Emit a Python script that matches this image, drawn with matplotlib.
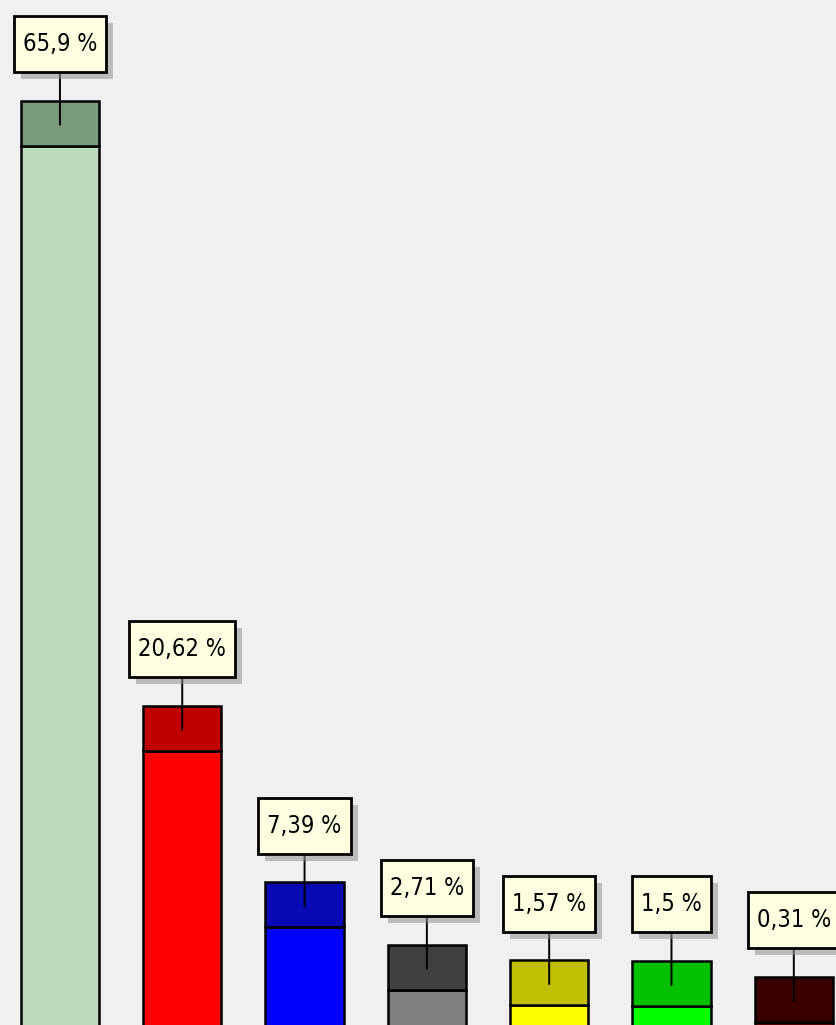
import matplotlib
matplotlib.use("Agg")
import matplotlib.pyplot as plt
import matplotlib.patheffects as pe
from matplotlib.path import Path

# Ergebnisse in Prozent
values = [65.9, 20.62, 7.39, 2.71, 1.57, 1.5, 0.31]
labels = ["65,9 %", "20,62 %", "7,39 %", "2,71 %", "1,57 %", "1,5 %", "0,31 %"]
colors = ["#BDDABF", "#FF0000", "#0000FF", "#808080", "#FFFF00", "#00FF00", "#4D0000"]
cap_colors = ["#7A9A7C", "#C00000", "#0A0AB4", "#404040", "#C0C000", "#00C000", "#3A0000"]

cap_h = 3.37      # Höhe des dunklen Kopfes
base = -5         # Balken beginnen unterhalb des Bildrandes


def label_box(x0, y0, width, height, mutation_size):
    # Kasten mit fester Höhe (56 px) und schmalem seitlichen Rand
    ph = 9
    pv = (56 - height) / 2
    verts = [(x0 - ph, y0 - pv), (x0 + width + ph, y0 - pv),
             (x0 + width + ph, y0 + height + pv), (x0 - ph, y0 + height + pv),
             (x0 - ph, y0 - pv)]
    codes = [Path.MOVETO, Path.LINETO, Path.LINETO, Path.LINETO, Path.CLOSEPOLY]
    return Path(verts, codes)


fig = plt.figure(figsize=(8.36, 10.25), dpi=100)
fig.patch.set_facecolor("#F0F0F0")
ax = fig.add_axes([0, 0, 1, 1])
ax.set_facecolor("#F0F0F0")

x = list(range(len(values)))
body = [v - cap_h - base for v in values]
ax.bar(x, body, bottom=base, width=0.64, color=colors,
       edgecolor="black", linewidth=1.8, zorder=1)
ax.bar(x, [cap_h] * len(values), bottom=[v - cap_h for v in values], width=0.64,
       color=cap_colors, edgecolor="black", linewidth=1.8, zorder=1)

for i, v in enumerate(values):
    t = ax.annotate(labels[i], xy=(i, v - 1.8), xytext=(0, 58),
                    textcoords="offset points", ha="center", va="center",
                    family="DejaVu Sans", fontstretch="condensed", fontsize=17,
                    bbox=dict(boxstyle=label_box, fc="#FFFFE1",
                              ec="black", lw=2),
                    arrowprops=dict(arrowstyle="-", color="black", lw=1.4,
                                    shrinkA=0, shrinkB=0),
                    zorder=3)
    t.get_bbox_patch().set_path_effects([
        pe.SimplePatchShadow(offset=(5, -5), shadow_rgbFace="#909090", alpha=0.55),
        pe.Normal()])

ax.set_xlim(-0.49, 6.345)
ax.set_ylim(-3.29, 73.43)
ax.axis("off")

fig.savefig("out.png", dpi=100, facecolor=fig.get_facecolor())
